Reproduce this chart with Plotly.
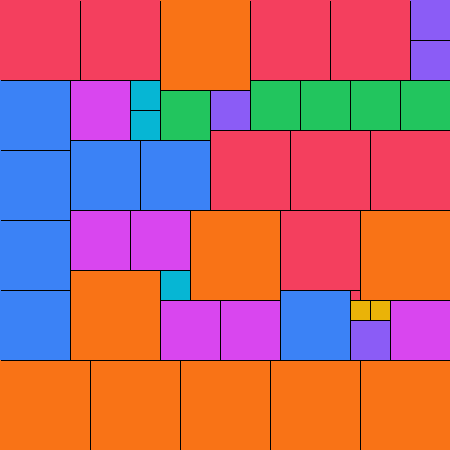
import plotly.graph_objects as go

# Square tiling: each tile has a left edge, top edge, side length and group
tile_left = [0, 80, 160, 250, 330, 410, 410,
             0, 70, 130, 130, 160, 210, 250, 300, 350, 400,
             0, 0, 0, 70, 140, 210, 290, 370,
             70, 130, 190, 280, 360, 70, 160, 160, 220, 280,
             350, 350, 370, 350, 390,
             0, 90, 180, 270, 360]
tile_top = [0, 0, 0, 0, 0, 0, 40,
            80, 80, 80, 110, 90, 90, 80, 80, 80, 80,
            150, 220, 290, 140, 140, 130, 130, 130,
            210, 210, 210, 210, 210, 270, 270, 300, 300, 290,
            290, 300, 300, 320, 300,
            360, 360, 360, 360, 360]
tile_side = [80, 80, 90, 80, 80, 40, 40,
             70, 60, 30, 30, 50, 40, 50, 50, 50, 50,
             70, 70, 70, 70, 70, 80, 80, 80,
             60, 60, 90, 80, 90, 90, 30, 60, 60, 70,
             10, 20, 20, 40, 60,
             90, 90, 90, 90, 90]

size_colors = {
    90: "#F97316",
    80: "#F43F5E",
    70: "#3B82F6",
    60: "#D946EF",
    50: "#22C55E",
    40: "#8B5CF6",
    30: "#06B6D4",
    20: "#EAB308",
    10: "#F43F5E",
}

centers = [l + s / 2 for l, s in zip(tile_left, tile_side)]
colors = [size_colors[s] for s in tile_side]

W = 450
fig = go.Figure()
# filled tiles
fig.add_trace(go.Bar(
    x=centers, y=tile_side, base=tile_top, width=tile_side,
    marker=dict(color=colors, line=dict(width=0)),
    hoverinfo="skip", xaxis="x", yaxis="y",
))
# tile outlines (overlay subplot inset by 1px so the outer frame is clipped)
fig.add_trace(go.Bar(
    x=centers, y=tile_side, base=tile_top, width=tile_side,
    marker=dict(color="rgba(0,0,0,0)", line=dict(color="black", width=1)),
    hoverinfo="skip", xaxis="x2", yaxis="y2",
))

fig.update_layout(
    width=W, height=W,
    margin=dict(l=0, r=0, t=0, b=0),
    paper_bgcolor="black",
    plot_bgcolor="rgba(0,0,0,0)",
    showlegend=False,
    barmode="overlay",
    bargap=0,
    xaxis=dict(range=[0, W], domain=[0, 1], visible=False, fixedrange=True),
    yaxis=dict(range=[W, 0], domain=[0, 1], visible=False, fixedrange=True),
    xaxis2=dict(range=[0, W - 1], domain=[1 / W, 1], visible=False, fixedrange=True,
                anchor="y2"),
    yaxis2=dict(range=[W - 1, 0], domain=[0, (W - 1) / W], visible=False, fixedrange=True,
                anchor="x2"),
)

fig.write_html(
    "out.html",
    config={"displayModeBar": False},
    post_script="document.body.style.margin='0';document.body.style.overflow='hidden';",
)
